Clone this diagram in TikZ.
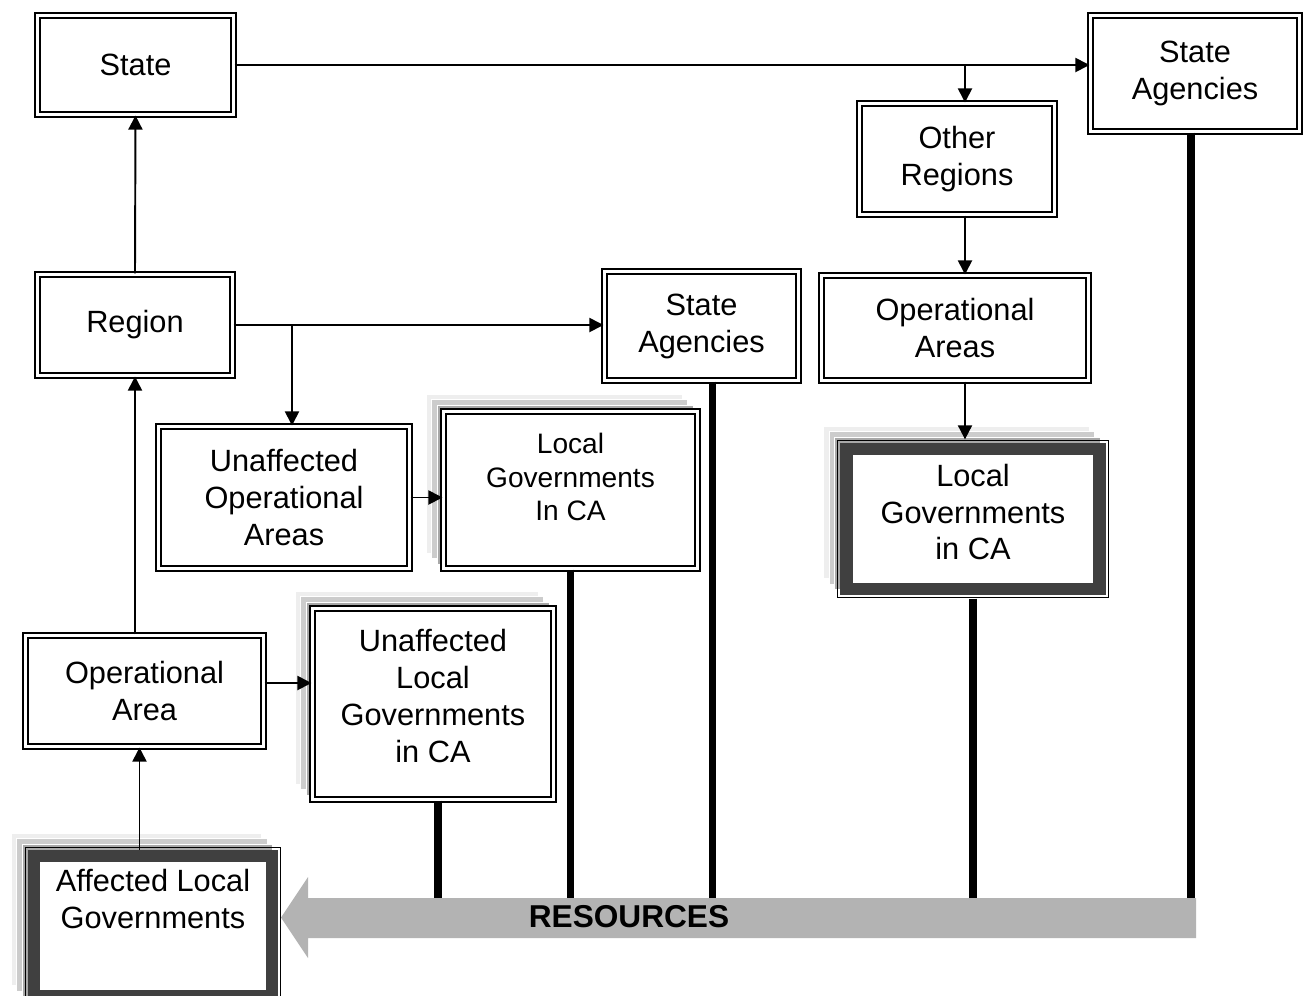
\documentclass[tikz,border=0pt]{standalone}
\usepackage{fontspec}
\setmainfont{Liberation Sans}
\usetikzlibrary{arrows.meta, backgrounds}
\definecolor{darkband}{HTML}{404040}
\definecolor{resgray}{HTML}{B3B3B3}
\definecolor{sheetlight}{HTML}{EEEEEE}
\definecolor{sheetmid}{HTML}{CCCCCC}
\definecolor{sheetdark}{HTML}{A8A8A8}
\tikzset{>={Triangle[length=8pt,width=8pt]}}

\begin{document}
\begin{tikzpicture}[x=0.02cm, y=-0.02cm,
    box/.style={draw, double, double distance=1.4pt, line width=1.2pt, fill=white,
        align=center, inner sep=0pt, font=\fontsize{17.5}{21}\selectfont},
    heavybox/.style={draw=darkband, line width=7pt, fill=white, inner sep=0pt},
    heavyrim/.style={draw=black, line width=0.7pt},
    sheet/.style={draw=white, line width=0.5pt},
    boxtext/.style={align=center, inner sep=0pt, font=\fontsize{17.5}{21}\selectfont},
    link/.style={->, line width=1.1pt},
    feed/.style={line width=4pt}]
    \useasboundingbox (0,0) rectangle (1306,995);

    % state level
    \node [box, minimum width=3.92cm, minimum height=1.98cm] (state) at (135.5,65) {State};
    \node [box, minimum width=4.18cm, minimum height=2.32cm] (stagtop) at (1195,73.5) {State\\Agencies};
    \node [box, minimum width=3.90cm, minimum height=2.22cm] (other) at (957,159) {Other\\Regions};

    % region level
    \node [box, minimum width=3.90cm, minimum height=2.02cm] (region) at (135,325) {Region};
    \node [box, minimum width=3.88cm, minimum height=2.18cm] (stagmid) at (701.5,326) {State\\Agencies};
    \node [box, minimum width=5.34cm, minimum height=2.10cm] (opareas) at (955,328) {Operational\\Areas};
    \node [box, minimum width=5.02cm, minimum height=2.84cm] (unopareas) at (284,497.5) {Unaffected\\Operational\\Areas};
    \node [box, minimum width=5.08cm, minimum height=3.14cm] (lgmid) at (570.5,490) {};
    \node [boxtext, font=\fontsize{16}{19}\selectfont] (lgmidlbl) at (570.5,477) {Local\\Governments\\In CA};
    \node [heavybox, minimum width=5.06cm, minimum height=2.80cm] (lgright) at (973,519) {};
    \draw [heavyrim] ([shift={(-1.5pt,-1.5pt)}]lgright.south west) rectangle ([shift={(1.5pt,1.5pt)}]lgright.north east);
    \node [boxtext] (lgrightlbl) at (973,512) {Local\\Governments\\in CA};

    % operational area level
    \node [box, minimum width=4.76cm, minimum height=2.22cm] (oparea) at (144.5,691) {Operational\\Area};
    \node [box, minimum width=4.82cm, minimum height=3.82cm] (unafflg) at (433,704) {};
    \node [boxtext] (unafflglbl) at (433,696) {Unaffected\\Local\\Governments\\in CA};
    \node [heavybox, minimum width=4.76cm, minimum height=2.80cm] (affected) at (153,926) {};
    \draw [heavyrim] ([shift={(-1.5pt,-1.5pt)}]affected.south west) rectangle ([shift={(1.5pt,1.5pt)}]affected.north east);
    \node [boxtext] (affectedlbl) at (153,899) {Affected Local\\Governments};

    % stacked sheets behind the local government boxes
    \begin{scope}[on background layer]
        \foreach \n in {lgmid, lgright, unafflg, affected}
            \foreach \s/\c in {0.33/sheetlight, 0.22/sheetmid, 0.11/sheetdark}
                \filldraw [sheet, fill=\c] ([shift={(-\s cm,\s cm)}]\n.south west) rectangle ([shift={(-\s cm,\s cm)}]\n.north east);
    \end{scope}

    % resources arrow
    \coordinate (restop) at (0,898);
    \fill [resgray] (1196,898) -- (308,898) -- (308,877) -- (281,917.5) -- (308,958) -- (308,938) -- (1196,938) -- cycle;
    \node [font=\fontsize{18}{21}\selectfont\bfseries] (res) at (629,917) {RESOURCES};

    % requests going up
    \draw [link] (region.north) -- (state.south);
    \draw [link] (oparea.north -| region.south) -- (region.south);
    \draw [link] ([xshift=-0.1cm]oparea.south |- affected.north) -- ([xshift=-0.1cm]oparea.south);

    % tasking going across and down
    \coordinate (split1) at (965,65);
    \coordinate (split2) at (292,325);
    \draw [link] (state.east) -- (state.east -| stagtop.west);
    \draw [link] (split1) -- (split1 |- other.north);
    \draw [link] (split1 |- other.south) -- (split1 |- opareas.north);
    \draw [link] (split1 |- opareas.south) -- ([yshift=2pt]split1 |- lgright.north);
    \draw [link] (region.east) -- (region.east -| stagmid.west);
    \draw [link] (split2) -- (split2 |- unopareas.north);
    \draw [link] (unopareas.east) -- (unopareas.east -| lgmid.west);
    \draw [link] ([yshift=0.16cm]oparea.east) -- ([yshift=0.16cm]oparea.east -| unafflg.west);

    % resources feeding the arrow
    \draw [feed] ([xshift=0.1cm]unafflg.south) -- ([xshift=0.1cm]unafflg.south |- restop);
    \draw [feed] (lgmid.south) -- (lgmid.south |- restop);
    \draw [feed] ([xshift=0.22cm]stagmid.south) -- ([xshift=0.22cm]stagmid.south |- restop);
    \draw [feed] ([yshift=-2pt]lgright.south) -- (lgright.south |- restop);
    \draw [feed] ([xshift=-0.08cm]stagtop.south) -- ([xshift=-0.08cm]stagtop.south |- restop);
\end{tikzpicture}
\end{document}
